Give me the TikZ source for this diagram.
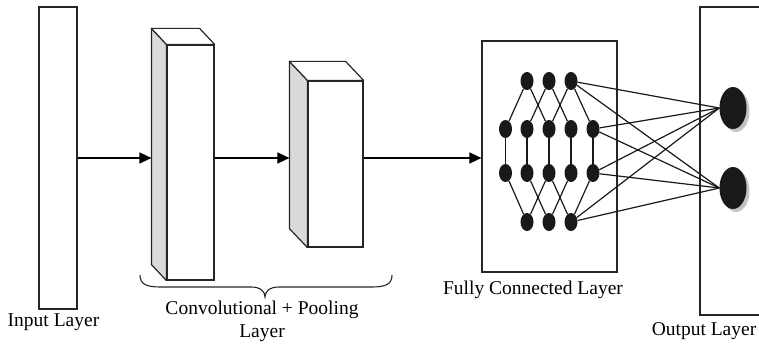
\documentclass[tikz,border=0pt]{standalone}
\usepackage{fontspec}
\setmainfont{Liberation Serif}
\usetikzlibrary{calc,arrows.meta,shapes.geometric}
\definecolor{sidegray}{HTML}{D9DADA}
\definecolor{shadowgray}{HTML}{C4C4C4}
\tikzset{
  layerbox/.style={draw=black!85, line width=1.2pt, fill=white, inner sep=0pt},
  face/.style={draw=black!85, line width=1.2pt, line join=round},
  arr/.style={line width=1.4pt, -{Triangle[length=12pt,width=11pt]}},
  neuron/.style={ellipse, fill=black!90, minimum width=13pt, minimum height=18pt, inner sep=0pt},
  outneuron/.style={ellipse, fill=black!90, minimum width=27pt, minimum height=42pt, inner sep=0pt},
  link/.style={line width=1.2pt, black!90},
  bracket/.style={line width=1.1pt, black!85},
  caption/.style={font=\fontsize{19.5}{23}\selectfont, inner sep=0pt, align=center}
}
\begin{document}
\begin{tikzpicture}[x=1pt, y=-1pt]
  \useasboundingbox (0,0) rectangle (759,347);
  \clip (0,0) rectangle (759,347);

  % input layer
  \node[layerbox, minimum width=38pt, minimum height=302pt] (in) at (58,158) {};
  \node[caption] (inlab) at (53.5,322) {Input Layer};

  % first convolution block (front face, shaded side, top)
  \node[layerbox, minimum width=47pt, minimum height=235pt] (f1) at (190.5,162.5) {};
  \draw[face, fill=sidegray] (f1.north west) -- ++(-15,-16) -- ($(f1.south west)+(-15,-16)$) -- (f1.south west) -- cycle;
  \draw[face, fill=white] (f1.north west) -- ++(-15,-16) -- ($(f1.north east)+(-15,-16)$) -- (f1.north east) -- cycle;
  \coordinate (b1l) at ($(f1.west)+(-15,-16)$);

  % pooling block
  \node[layerbox, minimum width=55pt, minimum height=166pt] (f2) at (335.5,164) {};
  \draw[face, fill=sidegray] (f2.north west) -- ++(-18,-19) -- ($(f2.south west)+(-18,-19)$) -- (f2.south west) -- cycle;
  \draw[face, fill=white] (f2.north west) -- ++(-18,-19) -- ($(f2.north east)+(-18,-19)$) -- (f2.north east) -- cycle;
  \coordinate (b2l) at ($(f2.west)+(-18,-19)$);

  % curly bracket under the convolution + pooling blocks
  \coordinate (brL) at (140,275);
  \coordinate (brT) at (265,297);
  \coordinate (brR) at (392,275);
  \draw[bracket] (brL) .. controls +(0,9) and +(-14,0) .. (160,287)
    -- (251,287) .. controls +(9,0) and +(0,-6) .. (brT)
    .. controls +(0,-6) and +(-9,0) .. (279,287)
    -- (372,287) .. controls +(14,0) and +(0,9) .. (brR);
  \node[caption] (convlab) at (262,321) {Convolutional + Pooling\\Layer};

  % fully connected layer frame
  \node[layerbox, fill=none, minimum width=135pt, minimum height=231pt] (fc) at (549.5,156.5) {};
  \node[caption] (fclab) at (533,290) {Fully Connected Layer};

  % output layer frame
  \node[layerbox, fill=none, minimum width=100pt, minimum height=308pt] (out) at (750,161) {};
  \node[caption] (outlab) at (704,331) {Output Layer};

  % arrows between stages
  \draw[arr] (in.east) -- (in.east -| b1l);
  \draw[arr] (f1.east |- in.east) -- (b2l |- in.east);
  \draw[arr] (f2.east |- in.east) -- (fc.west |- in.east);

  % neurons of the fully connected block
  \foreach \c/\x in {2/527,3/549,4/571}{
    \node[neuron] (n-1-\c) at (\x,81) {};
    \node[neuron] (n-4-\c) at (\x,222) {};
  }
  \foreach \c/\x in {1/505.5,2/527,3/549,4/571,5/593}{
    \node[neuron] (n-2-\c) at (\x,129) {};
    \node[neuron] (n-3-\c) at (\x,173) {};
  }

  % connections inside the block
  \foreach \c [evaluate=\c as \l using int(\c-1), evaluate=\c as \r using int(\c+1)] in {2,3,4}{
    \draw[link] (n-1-\c) -- (n-2-\l);
    \draw[link] (n-1-\c) -- (n-2-\r);
    \draw[link] (n-4-\c) -- (n-3-\l);
    \draw[link] (n-4-\c) -- (n-3-\r);
  }
  \foreach \c in {1,...,5}{
    \draw[link] (n-2-\c) -- (n-3-\c);
  }

  % output neurons with soft shadow
  \foreach \i/\y in {1/108,2/188}{
    \fill[shadowgray] (736,\y+3) ellipse [x radius=13.5pt, y radius=21pt];
    \node[outneuron] (o\i) at (733,\y) {};
  }

  % links to the output neurons
  \foreach \s in {n-1-4,n-2-5,n-3-5,n-4-4}{
    \draw[link] (\s) -- (o1.west);
    \draw[link] (\s) -- (o2.west);
  }
\end{tikzpicture}
\end{document}
